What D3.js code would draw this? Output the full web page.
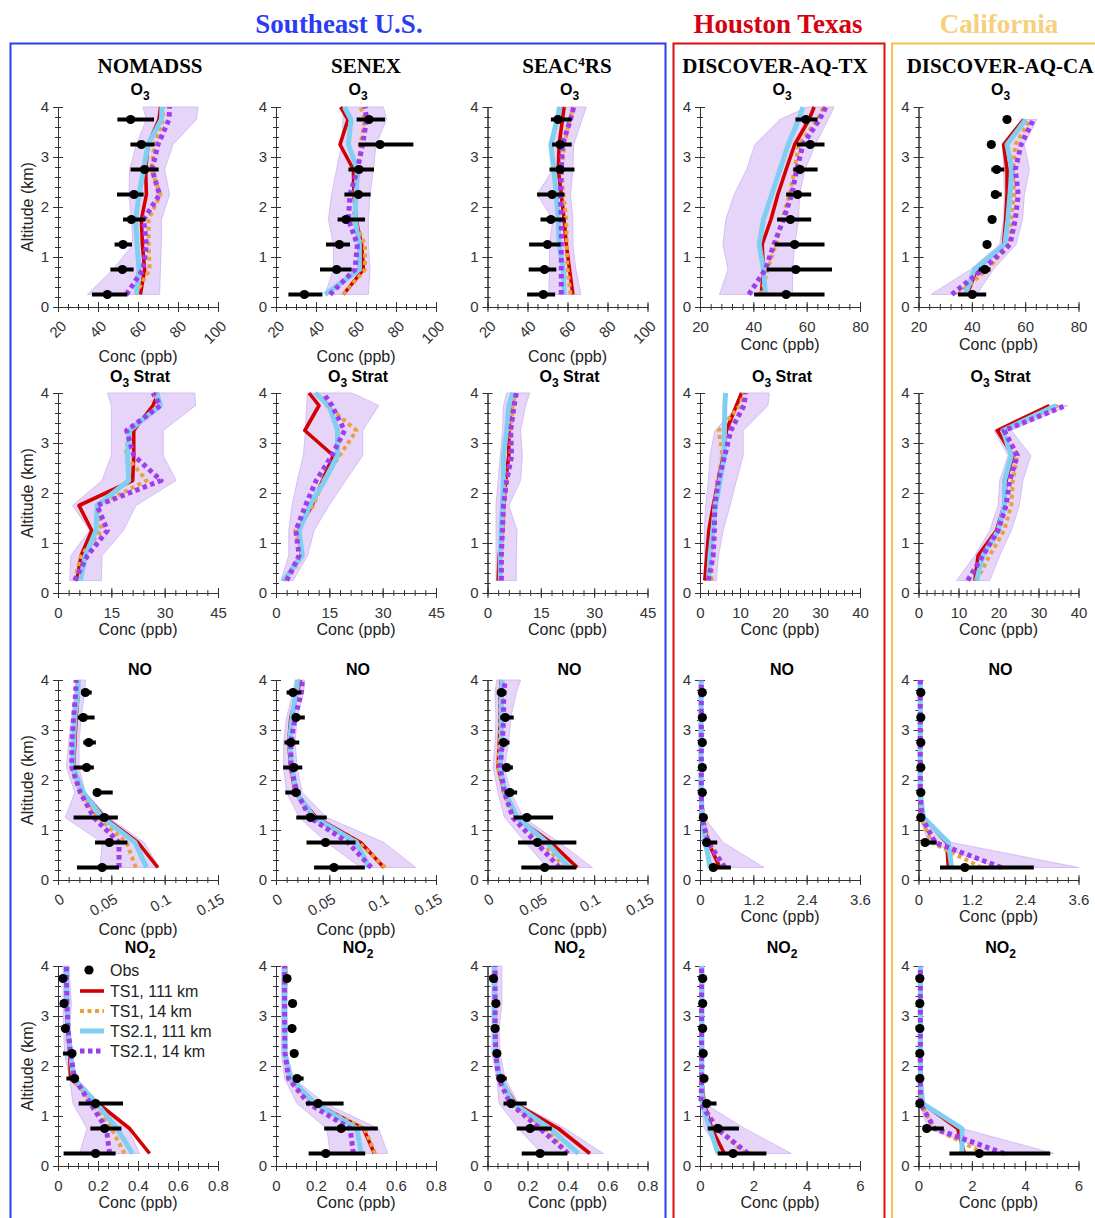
<!DOCTYPE html>
<html>
<head>
<meta charset="utf-8">
<script src="https://cdn.jsdelivr.net/npm/d3@7"></script>
<style>
  body { margin: 0; background: #fff; }
  svg { display: block; font-family: "Liberation Sans", Arial, Helvetica, sans-serif; }
</style>
</head>
<body>
<div id="chart"></div>
<script>
// ---- data ----
const campaigns = ["NOMADSS", "SENEX", "SEAC4RS", "DISCOVER-AQ-TX", "DISCOVER-AQ-CA"];
const regionNames = ["Southeast U.S.", "Houston Texas", "California"];
const seriesNames = ["TS1, 111 km", "TS1, 14 km", "TS2.1, 111 km", "TS2.1, 14 km"];
const altObs = [0.25, 0.75, 1.25, 1.75, 2.25, 2.75, 3.25, 3.75];
const altModel = [0.25, 0.75, 1.25, 1.75, 2.25, 2.75, 3.25, 3.75, 4.0];

// tick labels: [SE campaigns, TX/CA]
const tickO3 = [[20, 40, 60, 80, 100], [20, 40, 60, 80]];
const tickStrat = [[0, 15, 30, 45], [0, 10, 20, 30, 40]];
const tickNO = [[0, 0.05, 0.1, 0.15], [0, 1.2, 2.4, 3.6]];
const tickNO2 = [[0, 0.2, 0.4, 0.6, 0.8], [0, 2, 4, 6]];
const altTicks = [0, 1, 2, 3, 4];

// O3 (ppb), bottom -> top, one list per campaign
const o3_ts1_111 = [
  [61.2, 63.3, 62.2, 61.7, 64.2, 63.8, 65, 70.5, 71.3],
  [53.7, 63.7, 62.8, 60, 59, 58.7, 52, 56, 52.3],
  [62.7, 61, 59.4, 58.3, 56.9, 55.4, 55.8, 57.5, 58.3],
  [43, 43.8, 43.3, 46.6, 49.2, 52.3, 55.5, 60.9, 62.8],
  [38.2, 41.8, 51.9, 52.7, 53.2, 53.2, 51.9, 59.4, null]];
const o3_ts1_14 = [
  [58.7, 65.8, 65.3, 65.3, 71.2, 66.7, 68.3, 72.5, 72.5],
  [53.7, 64.5, 64.5, 58.7, 60, 61.2, 62.3, 64.5, 62.3],
  [61.5, 60, 59.6, 59.4, 57.9, 56.9, 58.5, 61, 63.1],
  [43, 45.3, 48.4, 50.8, 53.6, 55.5, 57, 64.1, 66.4],
  [34.8, 45.7, 54.3, 54.7, 55.8, 55.4, 56.3, 62, null]];
const o3_ts21_111 = [
  [59.2, 60.5, 59.5, 58.8, 60.5, 62.8, 65, 71.7, 72],
  [44.5, 61.7, 61.7, 59.5, 60, 60.7, 56.2, 57.5, 54.2],
  [58.3, 57.9, 55.8, 55.4, 54.4, 53.1, 51.7, 54.8, 56.3],
  [44.5, 43.8, 42.2, 43.8, 46.9, 50, 53.1, 57, 58.6],
  [37.6, 41, 52.4, 53.5, 54.3, 55, 53.2, 60.2, null]];
const o3_ts21_14 = [
  [54.2, 62.5, 64.2, 62.8, 70.8, 67, 70, 75.5, 75.8],
  [47, 59.5, 60.7, 56.2, 57, 60.7, 63.3, 65.3, 64.5],
  [56.9, 56.9, 56.9, 56.9, 56.5, 56.9, 57.5, 61.5, 63.1],
  [38.3, 44.5, 47.7, 51.3, 54.4, 56.3, 58.6, 64.8, 67.2],
  [32.5, 44.1, 54.3, 56.3, 57.4, 56.3, 58.5, 63.1, null]];
const o3_env_lo = [
  [34.7, 47.5, 57.5, 56.7, 55.5, 55.8, 59.2, 64.2, 62.5],
  [44.5, 48.7, 48.7, 46.2, 47.8, 50.3, 52.8, 53.5, 53.7],
  [50.6, 51, 51, 52.7, 44.8, 52.7, 51, 54.5, 54.8],
  [27.3, 30.5, 28.6, 29.7, 32.8, 37.5, 40.6, 50, 60.2],
  [24.7, 39.5, 50.4, 51.9, 52.2, 51.9, 51.6, 59, null]];
const o3_env_hi = [
  [70.8, 71.2, 71.7, 71.7, 75.8, 73.3, 77.5, 89.2, 90],
  [66.2, 67, 66.2, 66.2, 67, 68.7, 70, 75.3, 73.7],
  [66.7, 64.2, 62.7, 62.7, 61.5, 62.7, 63.1, 67.3, 69.4],
  [54.7, 54.7, 55.5, 57, 57.3, 59.4, 63.3, 68, 70.3],
  [41.8, 48, 56.6, 59, 59.7, 61.6, 59.7, 64.4, null]];
const o3_obs = [
  [44.7, 52.2, 52.5, 56.7, 58, 63.3, 61.7, 56.3],
  [34.2, 50.3, 51.7, 55, 61.2, 61.5, 72, 66.5],
  [47.9, 48.5, 50, 51.7, 52.3, 56.3, 56.3, 55.2],
  [52.3, 55.9, 55.5, 53.9, 56.6, 57.5, 61.3, 59.7],
  [40.2, 44.9, 45.7, 47.6, 48.8, 49.3, 47.3, 53.2]];
const o3_obs_lo = [
  [37, 46.2, 48.3, 52.5, 49.5, 56.3, 56.2, 49.7],
  [26.2, 42, 45, 50.8, 54.2, 56.2, 61.2, 60.3],
  [39.8, 40.6, 40.8, 46.5, 44.8, 51, 52.3, 51.7],
  [40.3, 45, 48, 48.9, 52.3, 55, 56.3, 55.8],
  [34.8, 42.6, 45.7, 47.6, 47.3, 47.3, 47.3, 53.2]];
const o3_obs_hi = [
  [54.7, 57.8, 57, 63.7, 62.8, 70.3, 68.3, 68],
  [43.2, 57.8, 57, 64.5, 67.3, 69, 88.7, 74.5],
  [53.8, 54.4, 56.5, 59, 58.5, 63.5, 62.1, 62.1],
  [66.7, 69.5, 66.7, 61.7, 61.7, 64.1, 66.7, 64.1],
  [45.4, 47, 45.7, 47.6, 51.2, 52.2, 47.3, 53.2]];

// O3 Strat (ppb)
const strat_ts1_111 = [
  [5.3, 6.5, 9.5, 5.9, 21, 21.3, 21.3, 26.7, 28.2],
  [2.1, 7.1, 6.2, 10.1, 13.1, 16.1, 8.1, 12.1, 9.3],
  [3, 3.3, 4.2, 4.5, 5.1, 6, 6, 6.5, 7.1],
  [1.2, 1.7, 2.2, 3.3, 4.6, 5.8, 6.6, 9.1, 10.4],
  [14.1, 14.9, 19.5, 21.4, 21.9, 23.6, 19.7, 32.7, null]];
const strat_ts1_14 = [
  [4.7, 6.5, 12.2, 11.3, 24.9, 19, 20.1, 28.4, 27.3],
  [3, 7.4, 5.4, 10.5, 13.3, 17.9, 22.6, 14.3, 13.1],
  [3.9, 3.9, 4.2, 4.5, 5.4, 6.5, 6.5, 7.1, 7.7],
  [2.9, 2.9, 3.2, 3.6, 4.4, 5.6, 4.7, 10, 11],
  [14.5, 17.8, 21.4, 23.2, 23.6, 24.7, 21.5, 34.8, null]];
const strat_ts21_111 = [
  [6.3, 7.7, 10.7, 11, 19.9, 19.5, 20.1, 28.8, 27.8],
  [2.1, 7.4, 6.5, 9.5, 13.7, 17.3, 17.3, 14.9, 11],
  [3.6, 3.6, 3.8, 4.2, 4.5, 4.5, 5.4, 6, 7.1],
  [2.1, 2.5, 3.2, 3.9, 5, 6.1, 6.1, 6.2, 6.4],
  [14.5, 16.1, 19.9, 21.5, 21.5, 23.2, 21.1, 34.4, null]];
const strat_ts21_14 = [
  [4.7, 8.3, 13.9, 11, 29, 21.3, 19.3, 28.8, 26.7],
  [3, 6.5, 5.6, 8.3, 11.3, 15.7, 19.3, 15.7, 13.3],
  [3.9, 3.9, 4.2, 4.5, 5.4, 6.8, 6.5, 7.5, 8.1],
  [2.1, 3.3, 3.6, 3.7, 4.6, 6.2, 7.7, 11, 11.4],
  [12.3, 16.1, 19.9, 21.9, 22.8, 24.7, 21.4, 36.8, null]];
const strat_env_lo = [
  [3.3, 3.6, 8.9, 4.1, 12.4, 15, 15, 15, 13.9],
  [1.4, 3.6, 3.6, 4.5, 6, 7.7, 8.3, 8.6, 8.9],
  [2.4, 2.4, 2.4, 2.4, 3, 3.6, 4.2, 4.5, 5.4],
  [1.1, 1.1, 1.1, 1.4, 2.1, 2.5, 3.7, 9.6, 10],
  [9.5, 14.1, 17.8, 19.9, 20.3, 22.4, 18.9, 32.3, null]];
const strat_env_hi = [
  [12.2, 12.4, 18.4, 21.9, 33.2, 29.6, 29.6, 38.7, 38.5],
  [4.8, 8.9, 10.7, 14.9, 19.6, 24.4, 24.4, 28.9, 21.4],
  [8.1, 8.1, 8.3, 6, 9.3, 9.8, 9.3, 10.7, 11.9],
  [4.1, 4.6, 5.8, 7.5, 9.1, 10.8, 10.8, 17, 17.3],
  [17.8, 20.3, 23.2, 25.2, 26.1, 28.1, 23.2, 37.3, null]];

// NO (ppb)
const no_ts1_111 = [
  [0.0936, 0.075, 0.0434, 0.0237, 0.0146, 0.0158, 0.017, 0.019, 0.019],
  [0.1012, 0.0794, 0.0377, 0.0179, 0.0139, 0.0119, 0.0139, 0.0198, 0.023],
  [0.0841, 0.0595, 0.027, 0.0159, 0.0099, 0.0111, 0.0119, 0.0119, 0.0131],
  [0.448, 0.187, 0.037, 0.022, 0.022, 0.022, 0.022, 0.022, 0.022],
  [0.671, 0.634, 0.112, 0.037, 0.037, 0.037, 0.037, 0.037, 0.037]];
const no_ts1_14 = [
  [0.073, 0.0643, 0.0375, 0.0217, 0.013, 0.0146, 0.0158, 0.0178, 0.0178],
  [0.1024, 0.0774, 0.0337, 0.0179, 0.0139, 0.0119, 0.0151, 0.019, 0.0218],
  [0.0726, 0.0516, 0.025, 0.0151, 0.0099, 0.0111, 0.0119, 0.0119, 0.0139],
  [0.523, 0.187, 0.075, 0.03, 0.03, 0.03, 0.03, 0.03, 0.03],
  [1.416, 0.298, 0.06, 0.04, 0.04, 0.04, 0.04, 0.04, 0.04]];
const no_ts21_111 = [
  [0.083, 0.0722, 0.0414, 0.0237, 0.0138, 0.0146, 0.0158, 0.0186, 0.019],
  [0.0873, 0.0754, 0.0357, 0.019, 0.0151, 0.0127, 0.0151, 0.0187, 0.0206],
  [0.0766, 0.0556, 0.0278, 0.0167, 0.0119, 0.0131, 0.0131, 0.0131, 0.0139],
  [0.224, 0.127, 0.052, 0.022, 0.022, 0.022, 0.022, 0.022, 0.022],
  [0.745, 0.671, 0.112, 0.037, 0.037, 0.037, 0.037, 0.037, 0.037]];
const no_ts21_14 = [
  [0.0572, 0.0572, 0.0336, 0.0209, 0.013, 0.013, 0.0146, 0.0166, 0.017],
  [0.0893, 0.0675, 0.0317, 0.0198, 0.0139, 0.0139, 0.0179, 0.0238, 0.0246],
  [0.0675, 0.0456, 0.0238, 0.0159, 0.0119, 0.0139, 0.0151, 0.0151, 0.0167],
  [0.56, 0.187, 0.037, 0.03, 0.03, 0.03, 0.03, 0.03, 0.03],
  [1.863, 0.373, 0.075, 0.04, 0.04, 0.04, 0.04, 0.04, 0.04]];
const no_env_lo = [
  [0.0395, 0.0414, 0.0067, 0.0158, 0.0079, 0.0099, 0.013, 0.0158, 0.017],
  [0.0794, 0.0476, 0.0218, 0.0099, 0.0071, 0.0071, 0.0099, 0.0159, 0.0179],
  [0.0556, 0.0357, 0.0159, 0.0099, 0.0052, 0.0071, 0.0079, 0.0071, 0.0087],
  [0.26, 0.052, 0.022, 0.01, 0.01, 0.01, 0.01, 0.01, 0.01],
  [1.79, 0.224, 0.015, 0.015, 0.015, 0.015, 0.015, 0.015, 0.015]];
const no_env_hi = [
  [0.0947, 0.0809, 0.0474, 0.0257, 0.0197, 0.0197, 0.0217, 0.025, 0.0257],
  [0.131, 0.1012, 0.0476, 0.0246, 0.0198, 0.0179, 0.0198, 0.0258, 0.027],
  [0.0984, 0.0675, 0.0337, 0.0218, 0.0159, 0.0198, 0.0218, 0.027, 0.031],
  [1.44, 0.523, 0.097, 0.052, 0.052, 0.052, 0.052, 0.052, 0.052],
  [3.6, 0.745, 0.112, 0.06, 0.06, 0.06, 0.06, 0.06, 0.06]];
const no_obs = [
  [0.0414, 0.0482, 0.0434, 0.0367, 0.0268, 0.0288, 0.0237, 0.0257],
  [0.0544, 0.0464, 0.0325, 0.0187, 0.0167, 0.0139, 0.0187, 0.0159],
  [0.0536, 0.0468, 0.0369, 0.021, 0.0179, 0.0151, 0.0167, 0.0131],
  [0.299, 0.149, 0.075, 0.052, 0.052, 0.052, 0.052, 0.052],
  [1.043, 0.149, 0.052, 0.052, 0.052, 0.052, 0.052, 0.052]];
const no_obs_lo = [
  [0.0178, 0.0347, 0.0146, 0.0328, 0.0146, 0.0237, 0.0186, 0.0217],
  [0.0357, 0.0286, 0.019, 0.0087, 0.0067, 0.0079, 0.0151, 0.0099],
  [0.0317, 0.0286, 0.0246, 0.0159, 0.0139, 0.0119, 0.0119, 0.0087],
  [0.209, 0.075, 0.075, 0.052, 0.052, 0.052, 0.052, 0.052],
  [0.484, 0.075, 0.052, 0.052, 0.052, 0.052, 0.052, 0.052]];
const no_obs_hi = [
  [0.0572, 0.0651, 0.0561, 0.0513, 0.0336, 0.0355, 0.0343, 0.0316],
  [0.0833, 0.0746, 0.0476, 0.023, 0.0246, 0.0218, 0.027, 0.0238],
  [0.0833, 0.0833, 0.0615, 0.0278, 0.0238, 0.0206, 0.0246, 0.0179],
  [0.695, 0.388, 0.075, 0.052, 0.052, 0.052, 0.052, 0.052],
  [2.594, 0.41, 0.052, 0.052, 0.052, 0.052, 0.052, 0.052]];

// NO2 (ppb)
const no2_ts1_111 = [
  [0.458, 0.358, 0.2, 0.063, 0.058, 0.047, 0.042, 0.042, 0.042],
  [0.492, 0.437, 0.196, 0.072, 0.045, 0.045, 0.045, 0.047, 0.047],
  [0.512, 0.354, 0.138, 0.063, 0.042, 0.04, 0.038, 0.038, 0.038],
  [0.91, 0.44, 0.16, 0.06, 0.06, 0.06, 0.06, 0.06, 0.06],
  [1.72, 1.47, 0.16, 0.07, 0.07, 0.07, 0.07, 0.07, 0.07]];
const no2_ts1_14 = [
  [0.333, 0.267, 0.175, 0.075, 0.06, 0.048, 0.043, 0.043, 0.043],
  [0.496, 0.442, 0.188, 0.063, 0.045, 0.045, 0.045, 0.047, 0.047],
  [0.404, 0.288, 0.121, 0.058, 0.042, 0.04, 0.038, 0.038, 0.038],
  [1.68, 0.68, 0.05, 0.06, 0.06, 0.06, 0.06, 0.06, 0.06],
  [2.47, 0.6, 0.07, 0.07, 0.07, 0.07, 0.07, 0.07, 0.07]];
const no2_ts21_111 = [
  [0.372, 0.295, 0.192, 0.078, 0.063, 0.05, 0.045, 0.042, 0.042],
  [0.426, 0.404, 0.196, 0.072, 0.045, 0.045, 0.043, 0.043, 0.043],
  [0.454, 0.313, 0.13, 0.063, 0.04, 0.035, 0.035, 0.035, 0.035],
  [0.68, 0.37, 0.09, 0.07, 0.07, 0.07, 0.07, 0.07, 0.07],
  [1.63, 1.63, 0.16, 0.07, 0.07, 0.07, 0.07, 0.07, 0.07]];
const no2_ts21_14 = [
  [0.258, 0.242, 0.162, 0.083, 0.063, 0.05, 0.045, 0.042, 0.042],
  [0.387, 0.371, 0.163, 0.063, 0.045, 0.043, 0.043, 0.043, 0.043],
  [0.404, 0.263, 0.113, 0.055, 0.042, 0.038, 0.038, 0.038, 0.038],
  [1.8, 0.62, 0.04, 0.06, 0.06, 0.06, 0.06, 0.06, 0.06],
  [3.22, 0.6, 0.07, 0.07, 0.07, 0.07, 0.07, 0.07, 0.07]];
const no2_env_lo = [
  [0.108, 0.145, 0.075, 0.058, 0.033, 0.028, 0.025, 0.025, 0.025],
  [0.271, 0.254, 0.105, 0.043, 0.027, 0.027, 0.027, 0.027, 0.03],
  [0.271, 0.155, 0.058, 0.047, 0.022, 0.022, 0.022, 0.022, 0.022],
  [0.81, 0.16, 0.04, 0.03, 0.03, 0.03, 0.03, 0.03, 0.03],
  [2.84, 0.35, 0.04, 0.04, 0.04, 0.04, 0.04, 0.04, 0.04]];
const no2_env_hi = [
  [0.408, 0.35, 0.208, 0.095, 0.067, 0.058, 0.067, 0.058, 0.058],
  [0.559, 0.512, 0.246, 0.088, 0.055, 0.055, 0.055, 0.055, 0.055],
  [0.579, 0.388, 0.155, 0.088, 0.063, 0.058, 0.072, 0.072, 0.072],
  [3.42, 1.68, 0.16, 0.1, 0.1, 0.1, 0.1, 0.1, 0.1],
  [5.09, 1.63, 0.16, 0.1, 0.1, 0.1, 0.1, 0.1, 0.1]];
const no2_obs = [
  [0.188, 0.233, 0.188, 0.083, 0.07, 0.037, 0.03, 0.025],
  [0.249, 0.326, 0.21, 0.105, 0.091, 0.08, 0.083, 0.055],
  [0.263, 0.213, 0.118, 0.068, 0.047, 0.038, 0.042, 0.03],
  [1.24, 0.68, 0.25, 0.15, 0.12, 0.1, 0.1, 0.1],
  [2.28, 0.31, 0.05, 0.05, 0.05, 0.05, 0.05, 0.05]];
const no2_obs_lo = [
  [0.028, 0.162, 0.103, 0.042, 0.025, 0.037, 0.03, 0.025],
  [0.163, 0.241, 0.15, 0.088, 0.091, 0.08, 0.083, 0.055],
  [0.171, 0.146, 0.08, 0.055, 0.047, 0.038, 0.042, 0.03],
  [0.66, 0.29, 0.12, 0.15, 0.12, 0.1, 0.1, 0.1],
  [1.16, 0.16, 0.05, 0.05, 0.05, 0.05, 0.05, 0.05]];
const no2_obs_hi = [
  [0.288, 0.317, 0.325, 0.1, 0.083, 0.037, 0.03, 0.025],
  [0.446, 0.509, 0.338, 0.138, 0.091, 0.08, 0.083, 0.055],
  [0.399, 0.321, 0.196, 0.096, 0.047, 0.038, 0.042, 0.03],
  [2.49, 1.46, 0.62, 0.15, 0.12, 0.1, 0.1, 0.1],
  [4.94, 0.95, 0.05, 0.05, 0.05, 0.05, 0.05, 0.05]];

// ---- layout & style ----
const W = 1095, H = 1218;
const colLeft = [58, 276, 487.5, 700, 918.5], plotW = 160;
const rowTop = [107, 393, 680, 966], plotH = 200;
const seriesColors = ["#d40000", "#e9a23b", "#7fcff3", "#a03cf0"];
const seriesWidths = [3.6, 4, 5, 5];
const seriesDash = [null, "4,3.5", null, "4.5,3.5"];
const envFill = "#e6d5f8", envStroke = "#cfb3f1";

const rows = [
  { title: ["O", "3", ""], ticks: tickO3, minor: [5, 4], rot: [-45, 0], xlab: [55, 43], tOff: 12,
    series: [o3_ts1_111, o3_ts1_14, o3_ts21_111, o3_ts21_14], lo: o3_env_lo, hi: o3_env_hi,
    obs: o3_obs, obsLo: o3_obs_lo, obsHi: o3_obs_hi },
  { title: ["O", "3", " Strat"], ticks: tickStrat, minor: [3, 2], rot: [0, 0], xlab: [42, 42], tOff: 11,
    series: [strat_ts1_111, strat_ts1_14, strat_ts21_111, strat_ts21_14], lo: strat_env_lo, hi: strat_env_hi,
    obs: null },
  { title: ["NO", "", ""], ticks: tickNO, minor: [0.01, 0.24], rot: [-30, 0], xlab: [55, 42], tOff: 5,
    series: [no_ts1_111, no_ts1_14, no_ts21_111, no_ts21_14], lo: no_env_lo, hi: no_env_hi,
    obs: no_obs, obsLo: no_obs_lo, obsHi: no_obs_hi },
  { title: ["NO", "2", ""], ticks: tickNO2, minor: [0.05, 0.4], rot: [0, 0], xlab: [42, 42], tOff: 13,
    series: [no2_ts1_111, no2_ts1_14, no2_ts21_111, no2_ts21_14], lo: no2_env_lo, hi: no2_env_hi,
    obs: no2_obs, obsLo: no2_obs_lo, obsHi: no2_obs_hi }
];

const svg = d3.select("#chart").append("svg").attr("width", W).attr("height", H);

// region boxes and titles
const boxes = [
  { x0: 10.5, x1: 665.5, color: "#2b3df2", tx: 339 },
  { x0: 673.5, x1: 884.5, color: "#dc0f12", tx: 778 },
  { x0: 892, x1: 1110, color: "#f3c24e", tx: 999 }
];
const titleColors = ["#2b3df2", "#d60010", "#f6d07c"];
boxes.forEach((b, i) => {
  svg.append("rect").attr("x", b.x0).attr("y", 43.5).attr("width", b.x1 - b.x0).attr("height", H)
    .attr("fill", "none").attr("stroke", b.color).attr("stroke-width", 2);
  svg.append("text").attr("x", b.tx).attr("y", 33).attr("text-anchor", "middle")
    .style("font-family", "'Liberation Serif', 'Times New Roman', serif").style("font-weight", "bold")
    .style("font-size", "27px").attr("fill", titleColors[i]).text(regionNames[i]);
});

// campaign headers
const headerX = [150, 366, 567, 775, 1000];
campaigns.forEach((name, c) => {
  const t = svg.append("text").attr("x", headerX[c]).attr("y", 73).attr("text-anchor", "middle")
    .style("font-family", "'Liberation Serif', 'Times New Roman', serif").style("font-weight", "bold")
    .style("font-size", "21px").attr("fill", "#000");
  if (name === "SEAC4RS") {
    t.append("tspan").text("SEAC");
    t.append("tspan").attr("dy", -7).style("font-size", "13px").text("4");
    t.append("tspan").attr("dy", 7).text("RS");
  } else {
    t.text(name);
  }
});

const fmt = d3.format("~g");

function drawPanel(r, c) {
  const R = rows[r], g = c < 3 ? 0 : 1;
  const ticks = R.ticks[g];
  const x = d3.scaleLinear().domain(d3.extent(ticks)).range([0, plotW]);
  const y = d3.scaleLinear().domain([0, 4]).range([plotH, 0]);
  const p = svg.append("g").attr("transform", `translate(${colLeft[c]},${rowTop[r]})`);

  // axes (minor + major, ticks crossing the axis line)
  const st = R.minor[g];
  const minorX = d3.range(ticks[0], ticks[ticks.length - 1] + st / 2, st).map(v => +v.toFixed(6));
  const minorY = d3.range(0, 4.1, 0.2).map(v => +v.toFixed(6));

  const gxm = p.append("g").attr("transform", `translate(0,${plotH})`)
    .call(d3.axisBottom(x).tickValues(minorX).tickFormat("").tickSizeInner(3).tickSizeOuter(0));
  gxm.selectAll(".tick line").attr("y1", -3);
  const gx = p.append("g").attr("transform", `translate(0,${plotH})`)
    .call(d3.axisBottom(x).tickValues(ticks).tickFormat(fmt).tickSizeInner(5).tickSizeOuter(0).tickPadding(9));
  gx.selectAll(".tick line").attr("y1", -5);
  gx.selectAll("text").style("font-size", "15px").attr("fill", "#333");
  if (R.rot[g] !== 0) {
    const a = R.rot[g];
    const off = a === -45 ? [9, 20] : [7, 22];
    gx.selectAll("text").attr("x", 0).attr("y", 0).attr("dy", 0).attr("text-anchor", "end")
      .attr("transform", `translate(${off[0]},${off[1]}) rotate(${a})`);
  }

  const gym = p.append("g").call(d3.axisLeft(y).tickValues(minorY).tickFormat("").tickSizeInner(3).tickSizeOuter(0));
  gym.selectAll(".tick line").attr("x1", 3);
  const gy = p.append("g").call(d3.axisLeft(y).tickValues(altTicks).tickFormat(fmt).tickSizeInner(5).tickSizeOuter(0).tickPadding(4));
  gy.selectAll(".tick line").attr("x1", 5);
  gy.selectAll("text").style("font-size", "15px").attr("fill", "#333");
  p.selectAll(".domain, .tick line").attr("stroke", "#333");

  // model spread
  const env = altModel.map((a, i) => ({ a, lo: R.lo[c][i], hi: R.hi[c][i] }));
  p.append("path").datum(env)
    .attr("d", d3.area().defined(d => d.lo != null).y(d => y(d.a)).x0(d => x(d.lo)).x1(d => x(d.hi)))
    .attr("fill", envFill).attr("stroke", envStroke).attr("stroke-width", 0.8);

  // model profiles
  R.series.forEach((s, k) => {
    const pts = altModel.map((a, i) => ({ a, v: s[c][i] }));
    p.append("path").datum(pts)
      .attr("d", d3.line().defined(d => d.v != null).x(d => x(d.v)).y(d => y(d.a)))
      .attr("fill", "none").attr("stroke", seriesColors[k]).attr("stroke-width", seriesWidths[k])
      .attr("stroke-dasharray", seriesDash[k]).attr("stroke-linejoin", "round");
  });

  // observations
  if (R.obs) {
    const ob = altObs.map((a, i) => ({ a, v: R.obs[c][i], lo: R.obsLo[c][i], hi: R.obsHi[c][i] }));
    p.selectAll("line.err").data(ob).join("line").attr("class", "err")
      .attr("x1", d => x(d.lo)).attr("x2", d => x(d.hi)).attr("y1", d => y(d.a)).attr("y2", d => y(d.a))
      .attr("stroke", "#000").attr("stroke-width", 4);
    p.selectAll("circle.obs").data(ob).join("circle").attr("class", "obs")
      .attr("cx", d => x(d.v)).attr("cy", d => y(d.a)).attr("r", 4.6).attr("fill", "#000");
  }

  // panel title
  const t = p.append("text").attr("x", plotW / 2 + 2).attr("y", -R.tOff).attr("text-anchor", "middle")
    .style("font-size", "16px").style("font-weight", "bold").attr("fill", "#000");
  t.append("tspan").text(R.title[0]);
  if (R.title[1]) t.append("tspan").attr("dy", 5).style("font-size", "12px").text(R.title[1]);
  if (R.title[2]) t.append("tspan").attr("dy", -5).text(R.title[2]);

  // axis labels
  p.append("text").attr("x", plotW / 2).attr("y", plotH + R.xlab[g]).attr("text-anchor", "middle")
    .style("font-size", "16px").attr("fill", "#222").text("Conc (ppb)");
  if (c === 0) {
    p.append("text").attr("transform", `translate(${33 - colLeft[0]},${plotH / 2}) rotate(-90)`)
      .attr("text-anchor", "middle").style("font-size", "16px").attr("fill", "#222").text("Altitude (km)");
  }
}

rows.forEach((R, r) => campaigns.forEach((name, c) => drawPanel(r, c)));

// legend (inside NOMADSS NO2 panel)
const lg = svg.append("g").attr("transform", "translate(80,970)");
lg.append("circle").attr("cx", 9).attr("cy", 0).attr("r", 4.6).attr("fill", "#000");
lg.append("text").attr("x", 30).attr("y", 0).attr("dy", "0.35em").style("font-size", "16px").attr("fill", "#222").text("Obs");
seriesNames.forEach((n, k) => {
  const yy = 21 + k * 20;
  lg.append("line").attr("x1", 0).attr("x2", 24).attr("y1", yy).attr("y2", yy)
    .attr("stroke", seriesColors[k]).attr("stroke-width", seriesWidths[k]).attr("stroke-dasharray", seriesDash[k]);
  lg.append("text").attr("x", 30).attr("y", yy).attr("dy", "0.35em").style("font-size", "16px").attr("fill", "#222").text(n);
});
</script>
</body>
</html>
